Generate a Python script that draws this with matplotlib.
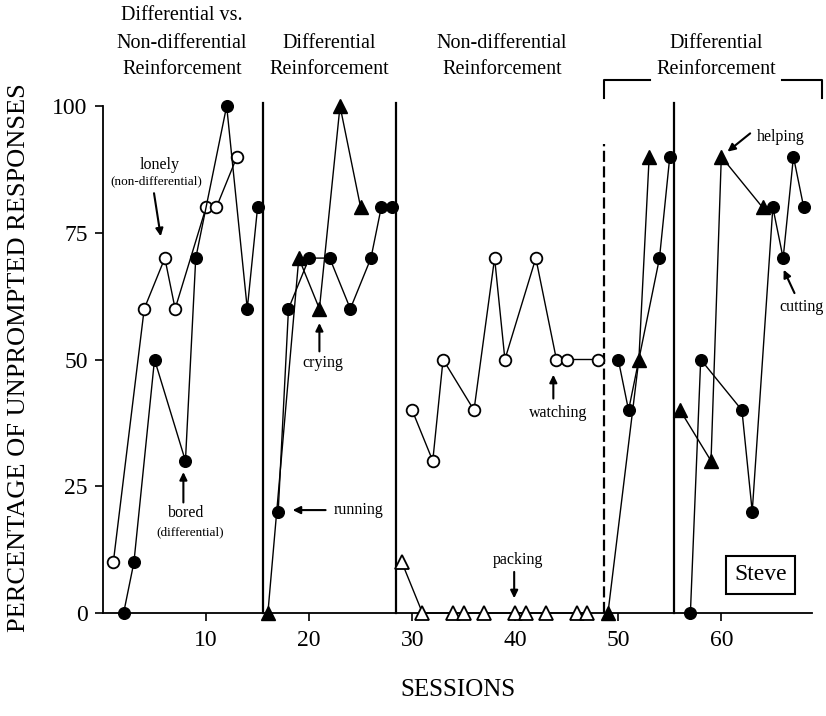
import matplotlib
matplotlib.use("Agg")
import matplotlib.pyplot as plt
from matplotlib.lines import Line2D

plt.rcParams['font.family'] = ['Liberation Serif', 'DejaVu Serif']

# ---------------- data ----------------
# Phase 1: differential vs non-differential
lonely_x = [1, 4, 6, 7, 10, 11, 13]
lonely_y = [10, 60, 70, 60, 80, 80, 90]
bored_x = [2, 3, 5, 8, 9, 12, 14, 15]
bored_y = [0, 10, 50, 30, 70, 100, 60, 80]
# Phase 2: differential
running_x = [17, 18, 20, 22, 24, 26, 27, 28]
running_y = [20, 60, 70, 70, 60, 70, 80, 80]
crying_x = [16, 19, 21, 23, 25]
crying_y = [0, 70, 60, 100, 80]
# Phase 3: non-differential
watching_x = [30, 32, 33, 36, 38, 39, 42, 44, 45, 48]
watching_y = [40, 30, 50, 40, 70, 50, 70, 50, 50, 50]
packing_x = [29, 31, 34, 35, 37, 40, 41, 43, 46, 47]
packing_y = [10, 0, 0, 0, 0, 0, 0, 0, 0, 0]
# Phase 4: differential
p4_circle_x = [50, 51, 54, 55]
p4_circle_y = [50, 40, 70, 90]
p4_tri_x = [49, 52, 53]
p4_tri_y = [0, 50, 90]
# Phase 5: differential
cutting_x = [57, 58, 62, 63, 65, 66, 67, 68]
cutting_y = [0, 50, 40, 20, 80, 70, 90, 80]
helping_x = [56, 59, 60, 64]
helping_y = [40, 30, 90, 80]

phase_lines = [15.5, 28.45, 55.4]
dashed_line = 48.6

x_ticks = [10, 20, 30, 40, 50, 60]
y_ticks = [0, 25, 50, 75, 100]

# ---------------- figure ----------------
W, H = 826, 716
fig = plt.figure(figsize=(W / 100, H / 100), dpi=100)
ax = fig.add_axes([103 / W, 1 - 613 / H, (812 - 103) / W, (613 - 106) / H])
ax.set_xlim(0, 68.8)
ax.set_ylim(0, 100)

lw = 1.0
ms_c = 8.4
ms_t = 9.5


def filled_c(x, y):
    ax.plot(x, y, '-', color='black', lw=lw, marker='o', ms=ms_c,
            mfc='black', mec='black', clip_on=False, zorder=4)


def open_c(x, y):
    ax.plot(x, y, '-', color='black', lw=lw, marker='o', ms=ms_c,
            mfc='white', mec='black', mew=1.3, clip_on=False, zorder=4)


def filled_t(x, y):
    ax.plot(x, y, '-', color='black', lw=lw, marker='^', ms=ms_t,
            mfc='black', mec='black', clip_on=False, zorder=4)


def open_t(x, y):
    ax.plot(x, y, '-', color='black', lw=lw, marker='^', ms=ms_t,
            mfc='white', mec='black', mew=1.3, clip_on=False, zorder=4)


open_c(lonely_x, lonely_y)
filled_c(bored_x, bored_y)
filled_c(running_x, running_y)
filled_t(crying_x, crying_y)
open_c(watching_x, watching_y)
open_t(packing_x, packing_y)
filled_c(p4_circle_x, p4_circle_y)
filled_t(p4_tri_x, p4_tri_y)
filled_c(cutting_x, cutting_y)
filled_t(helping_x, helping_y)

for xv in phase_lines:
    ax.plot([xv, xv], [0, 100.6], color='black', lw=1.6, clip_on=False, zorder=3)
ax.plot([dashed_line, dashed_line], [0, 92.6], color='black', lw=1.6,
        dashes=(5, 2), clip_on=False, zorder=3)

# axes styling
for s in ['top', 'right']:
    ax.spines[s].set_visible(False)
ax.spines['left'].set_linewidth(1.3)
ax.spines['bottom'].set_linewidth(1.3)
ax.set_xticks(x_ticks)
ax.set_yticks(y_ticks)
ax.tick_params(axis='both', direction='out', length=6, width=1.2,
               labelsize=17)
ax.tick_params(axis='y', pad=5)
ax.tick_params(axis='x', pad=6)

# annotations
ann_fs = 11.5
arrow = dict(arrowstyle='-|>,head_length=0.45,head_width=0.22',
             color='black', lw=1.5, shrinkA=0, shrinkB=0)

ax.text(5.5, 88.4, 'lonely', ha='center', va='center', fontsize=ann_fs)
ax.text(5.2, 85.1, '(non-differential)', ha='center', va='center', fontsize=9.5)
ax.annotate('', xy=(5.6, 74.3), xytext=(4.95, 82.8), arrowprops=arrow)

ax.text(8.1, 19.7, 'bored', ha='center', va='center', fontsize=ann_fs)
ax.text(8.45, 16.0, '(differential)', ha='center', va='center', fontsize=9.5)
ax.annotate('', xy=(7.8, 27.8), xytext=(7.8, 21.8), arrowprops=arrow)

ax.text(21.3, 49.3, 'crying', ha='center', va='center', fontsize=ann_fs)
ax.annotate('', xy=(21.0, 57.2), xytext=(21.0, 51.6), arrowprops=arrow)

ax.text(24.8, 20.3, 'running', ha='center', va='center', fontsize=ann_fs)
ax.annotate('', xy=(18.4, 20.3), xytext=(21.6, 20.3), arrowprops=arrow)

ax.text(44.2, 39.5, 'watching', ha='center', va='center', fontsize=ann_fs)
ax.annotate('', xy=(43.7, 47.0), xytext=(43.7, 42.3), arrowprops=arrow)

ax.text(40.3, 10.5, 'packing', ha='center', va='center', fontsize=ann_fs)
ax.annotate('', xy=(39.9, 2.9), xytext=(39.9, 8.1), arrowprops=arrow)

ax.text(65.8, 93.9, 'helping', ha='center', va='center', fontsize=ann_fs)
ax.annotate('', xy=(60.6, 91.0), xytext=(62.8, 94.6), arrowprops=arrow)

ax.text(67.8, 60.4, 'cutting', ha='center', va='center', fontsize=ann_fs)
ax.annotate('', xy=(66.05, 67.7), xytext=(67.1, 63.1), arrowprops=arrow)

ax.text(63.8, 7.5, 'Steve', ha='center', va='center', fontsize=17,
        bbox=dict(boxstyle='square,pad=0.35', fc='white', ec='black', lw=1.5))


# phase titles (figure pixel coordinates)
def ftxt(x, y, s, **kw):
    fig.text(x / W, 1 - y / H, s, ha='center', va='center', fontsize=14.5, **kw)


ftxt(182, 16, 'Differential vs.')
ftxt(182, 43, 'Non-differential')
ftxt(182, 70, 'Reinforcement')
ftxt(329, 43, 'Differential')
ftxt(329, 70, 'Reinforcement')
ftxt(502, 43, 'Non-differential')
ftxt(502, 70, 'Reinforcement')
ftxt(716, 43, 'Differential')
ftxt(716, 70, 'Reinforcement')


# bracket over last phase
def fline(xs, ys):
    fig.add_artist(Line2D([x / W for x in xs], [1 - y / H for y in ys],
                          color='black', lw=1.5))


fline([604, 604, 650], [98, 80, 80])
fline([782, 822, 822], [80, 80, 98])

fig.text(19 / W, 1 - 358 / H, 'PERCENTAGE OF UNPROMPTED RESPONSES',
         rotation=90, ha='center', va='center', fontsize=19)
fig.text(458 / W, 1 - 690 / H, 'SESSIONS', ha='center', va='center', fontsize=18)

fig.savefig('out.png', dpi=100)
